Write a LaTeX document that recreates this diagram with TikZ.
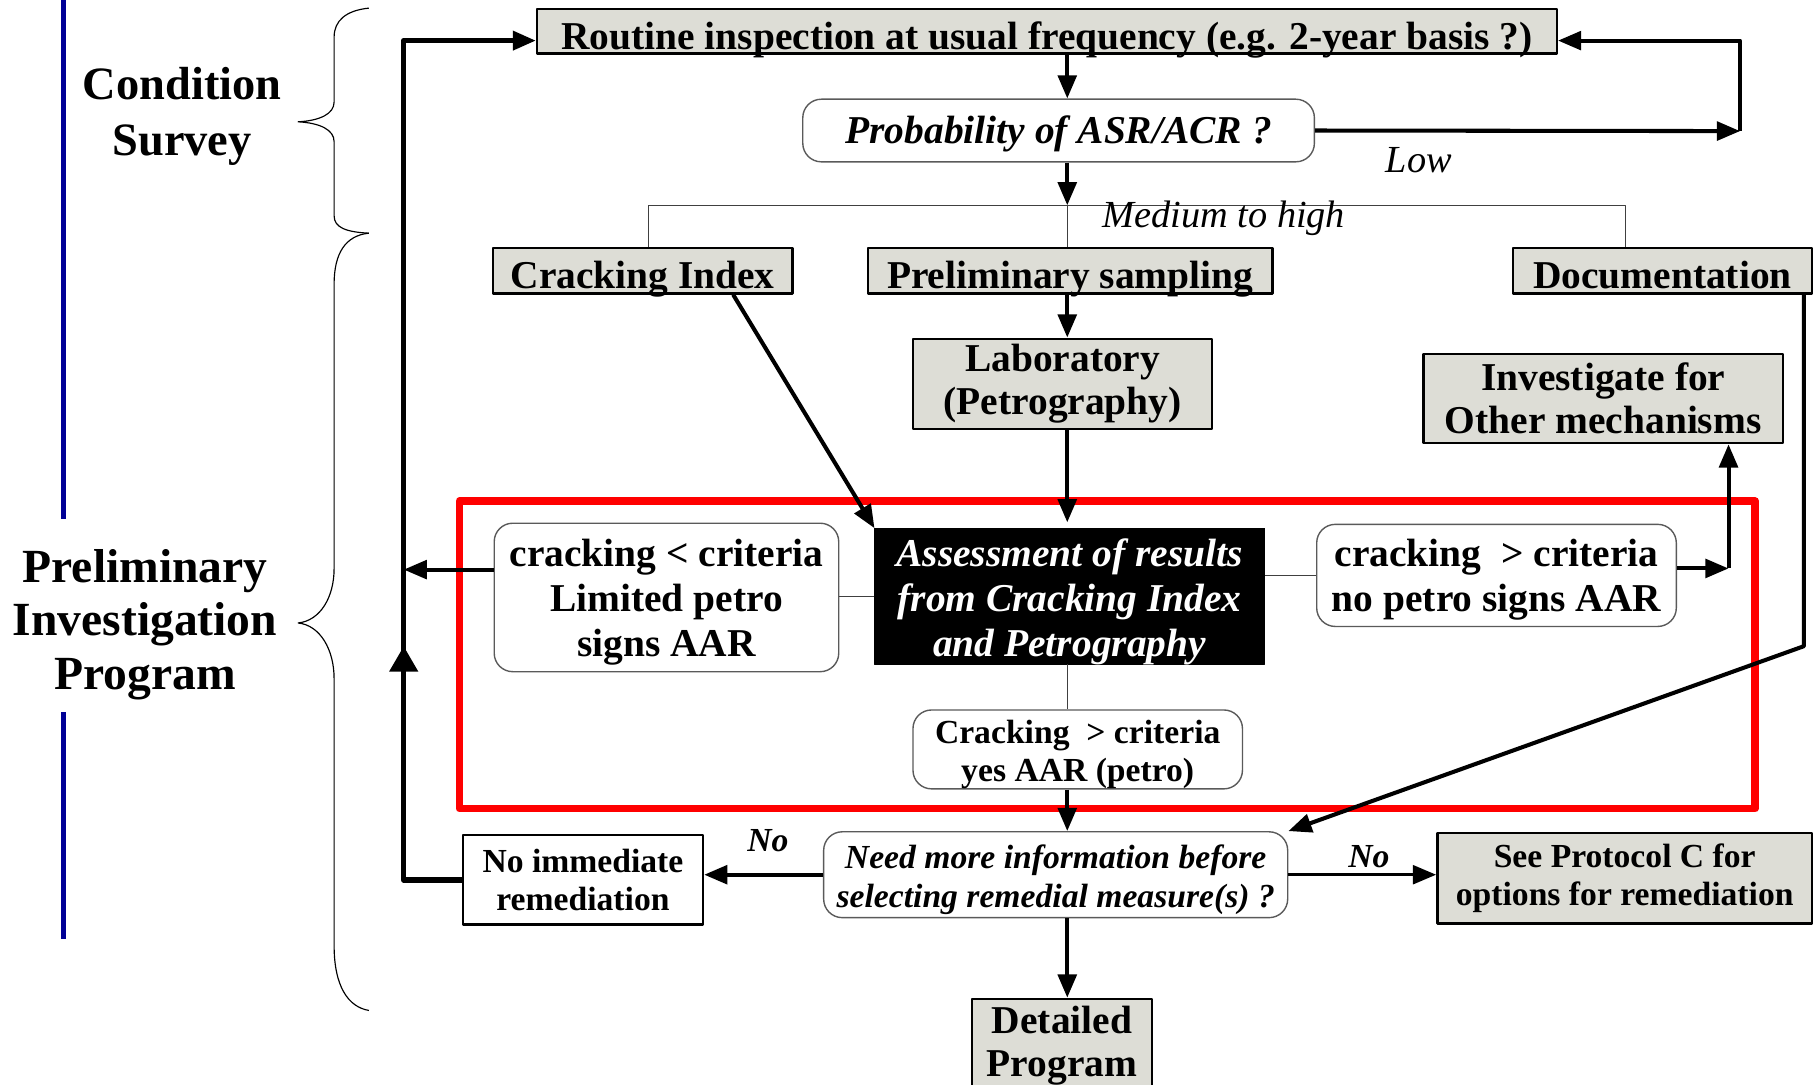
\documentclass[tikz,border=0pt]{standalone}
\usepackage{fontspec}
\setmainfont{Liberation Serif}
\usepackage{xcolor}
\usetikzlibrary{positioning, arrows.meta}

\definecolor{boxgray}{RGB}{221,221,214}
\definecolor{barblue}{RGB}{0,0,150}
\definecolor{framegray}{RGB}{90,90,90}

\begin{document}
\begin{tikzpicture}[x=1pt, y=-1pt, line join=round,
    graybox/.style={draw=black, line width=2pt, fill=boxgray, inner sep=0pt, align=center,
        font=\fontsize{34}{37}\selectfont\bfseries},
    oneline/.style={text height=31pt, text depth=0pt},
    plainbox/.style={graybox, fill=white},
    roundbox/.style={draw=framegray, line width=1.2pt, rounded corners=16pt, fill=white,
        inner sep=0pt, align=center, font=\fontsize{34}{39}\selectfont\bfseries},
    smalltext/.style={font=\fontsize{29}{33}\selectfont\bfseries},
    flow/.style={line width=3.5pt, -{Triangle[length=20pt,width=16pt]}},
    link/.style={line width=1.1pt, black!75},
    lbl/.style={inner sep=0pt, font=\fontsize{33}{36}\selectfont\itshape},
    nolbl/.style={inner sep=0pt, font=\fontsize{29}{33}\selectfont\bfseries\itshape}]

    \useasboundingbox (0,0) rectangle (1568,935);

    % Side titles with their bars and braces
    \draw[barblue, line width=4.6pt] (55,0) -- (55,447);
    \draw[barblue, line width=4.6pt] (55,614) -- (55,809);
    \node[font=\fontsize{40}{48}\selectfont\bfseries, align=center] (cond) at (157,100.5) {Condition\\Survey};
    \node[font=\fontsize{41}{46.5}\selectfont\bfseries, align=center] (prelim) at (125,538.5) {Preliminary\\Investigation\\Program};
    \draw[line width=1pt] (318,7) .. controls (298,9) and (288,18) .. (288,32) -- (288,88)
        .. controls (288,98) and (276,104) .. (257,105) .. controls (276,106) and (288,112) .. (288,122)
        -- (288,186) .. controls (288,196) and (298,200) .. (318,201);
    \draw[line width=1pt] (318,201) .. controls (298,203) and (288,218) .. (288,245) -- (288,490)
        .. controls (288,515) and (276,535) .. (257,537) .. controls (276,539) and (288,560) .. (288,585)
        -- (288,815) .. controls (288,850) and (300,868) .. (318,871);

    % Boxes of the flow
    \node[graybox, oneline, minimum width=879pt, minimum height=38pt] (routine) at (902.5,27)
        {Routine inspection at usual frequency (e.g. 2-year basis ?)};
    \node[roundbox, font=\fontsize{34}{39}\selectfont\bfseries\itshape, text height=23pt, text depth=0pt,
        minimum width=441pt, minimum height=54pt] (prob) at (912.5,112.5) {Probability of ASR/ACR ?};
    \node[graybox, oneline, minimum width=258pt, minimum height=39pt] (ci) at (554,233.5) {Cracking Index};
    \node[graybox, oneline, minimum width=349pt, minimum height=39pt] (ps) at (922.5,233.5) {Preliminary sampling};
    \node[graybox, oneline, minimum width=258pt, minimum height=39pt] (doc) at (1433,233.5) {Documentation};
    \node[graybox, minimum width=258pt, minimum height=78pt] (lab) at (916,331) {Laboratory\\(Petrography)};
    \node[graybox, minimum width=310pt, minimum height=77pt] (inv) at (1382,343.5) {Investigate for\\Other mechanisms};
    \node[draw=black, fill=black, text=white, inner sep=0pt, align=center,
        minimum width=336pt, minimum height=117pt, text height=106pt, text depth=2pt,
        font=\fontsize{34}{39}\selectfont\bfseries\itshape] (assess) at (922,514)
        {Assessment of results\\from Cracking Index\\and Petrography};
    \node[roundbox, minimum width=297pt, minimum height=128pt, text height=106pt, text depth=4pt] (critlo) at (574.5,515)
        {cracking < criteria\\Limited petro\\signs AAR};
    \node[roundbox, minimum width=310pt, minimum height=88pt, text height=66pt, text depth=4pt] (crithi) at (1290,496)
        {cracking~ > criteria\\no petro signs AAR};
    \node[roundbox, smalltext, minimum width=284pt, minimum height=68pt, text height=57pt, text depth=2pt] (crityes) at (929,646)
        {Cracking~ > criteria\\yes AAR (petro)};
    \node[roundbox, font=\fontsize{29}{33}\selectfont\bfseries\itshape, text height=58pt, text depth=2pt,
        minimum width=400pt, minimum height=74pt] (need) at (910,754)
        {Need more information before\\selecting remedial measure(s) ?};
    \node[plainbox, smalltext, minimum width=207pt, minimum height=77pt] (norem) at (502.5,758.5)
        {No immediate\\remediation};
    \node[graybox, smalltext, minimum width=323pt, minimum height=78pt] (proto) at (1400.5,757)
        {See Protocol C for\\options for remediation};
    \node[graybox, anchor=north, minimum width=155pt, minimum height=80pt] (detail) at (915.5,860)
        {Detailed\\Program};

    % Red frame round the assessment
    \draw[red, line width=6.5pt] (396,432) rectangle (1513,697);

    % Helper points
    \coordinate (split) at (920,177);
    \coordinate (branchl) at (559,177);
    \coordinate (branchr) at (1401,177);
    \coordinate (lowend) at (1500,113);
    \coordinate (lefttop) at (348,35);
    \coordinate (leftmid) at (348,557);
    \coordinate (leftarr) at (348,491);
    \coordinate (invfoot) at (1490,490);
    \coordinate (docturn) at (1555,557);

    % Top part
    \draw[flow] (split |- routine.south) -- (split |- prob.north);
    \draw[flow] (split |- prob.south) -- (split);
    \draw[flow] (prob.east) -- (lowend);
    \draw[flow] (lowend) -- (lowend |- lefttop) -- (lefttop -| routine.east);
    \draw[link] (branchl |- ci.north) -- (branchl) -- (branchr) -- (branchr |- doc.north);
    \draw[link] (split) -- (split |- ps.north);

    % Sampling and assessment
    \draw[flow] (split |- ps.south) -- (split |- lab.north);
    \draw[flow, shorten >=5pt] (split |- lab.south) -- (split |- assess.north);
    \draw[flow] ([xshift=78pt]ci.south) -- (assess.north west);
    \draw[link] (assess.west) -- (assess.west -| critlo.east);
    \draw[link] (crithi.west) -- (crithi.west -| assess.east);
    \draw[link] (split |- assess.south) -- (split |- crityes.north);
    \draw[flow] (critlo.west |- leftarr) -- (leftarr);
    \draw[flow] (crithi.east |- invfoot) -- (invfoot);
    \draw[flow] (invfoot) -- (invfoot |- inv.south);
    \draw[flow] (docturn |- doc.south) -- (docturn) -- (need.north east);

    % Bottom part
    \draw[flow] (split |- crityes.south) -- (split |- need.north);
    \draw[flow] (split |- need.south) -- (split |- detail.north);
    \draw[flow] (need.west) -- (need.west -| norem.east);
    \draw[flow, line width=3pt] (need.east) -- (need.east -| proto.west);

    % Loop back to the routine inspection
    \draw[flow, line width=4.5pt] (norem.west) -- (norem.west -| lefttop) -- (lefttop) -- (lefttop -| routine.west);
    \draw[flow, line width=4.5pt, -{Triangle[length=22pt,width=24pt]}] (norem.west -| lefttop) -- (leftmid);

    % Branch labels
    \node[lbl] (low) at (1223,138) {Low};
    \node[lbl] (medhigh) at (1055,188) {Medium to high};
    \node[nolbl] (noleft) at (662,725) {No};
    \node[nolbl] (noright) at (1180,738) {No};
\end{tikzpicture}
\end{document}
